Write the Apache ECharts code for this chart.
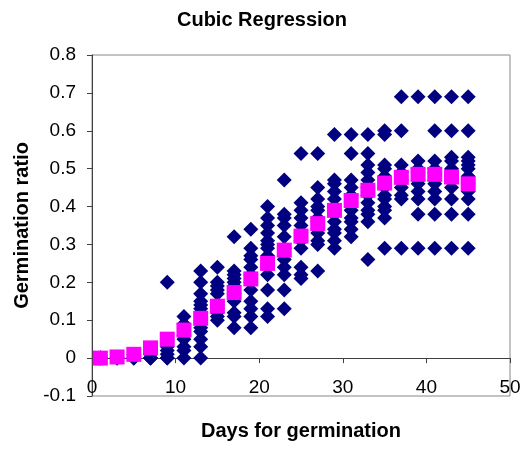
<!DOCTYPE html>
<html>
<head>
<meta charset="utf-8">
<script src="https://cdn.jsdelivr.net/npm/echarts@6/dist/echarts.min.js"></script>
<style>
  html, body { margin: 0; padding: 0; background: #fff; }
  #chart { width: 524px; height: 449px; }
</style>
</head>
<body>
<div id="chart"></div>
<script>
// days on the x axis (odd days only)
const days = [1, 3, 5, 7, 9, 11, 13, 15, 17, 19, 21, 23, 25, 27, 29, 31, 33, 35, 37, 39, 41, 43, 45]

// observed germination ratios, one list per day
const observed = [
  [0, 0, 0],
  [0, 0, 0],
  [0, 0, 0, 0.01],
  [0, 0, 0, 0.01, 0.02],
  [0, 0, 0.01, 0.02, 0.03, 0.2],
  [0, 0.02, 0.03, 0.05, 0.06, 0.09, 0.11],
  [0, 0.03, 0.05, 0.07, 0.08, 0.1, 0.13, 0.14, 0.15, 0.17, 0.2, 0.23],
  [0.1, 0.11, 0.12, 0.14, 0.17, 0.18, 0.19, 0.2, 0.24],
  [0.08, 0.11, 0.12, 0.15, 0.17, 0.19, 0.2, 0.21, 0.22, 0.23, 0.32],
  [0.08, 0.11, 0.13, 0.15, 0.18, 0.2, 0.22, 0.24, 0.26, 0.27, 0.29, 0.34],
  [0.11, 0.13, 0.18, 0.22, 0.25, 0.27, 0.29, 0.3, 0.31, 0.33, 0.35, 0.37, 0.4],
  [0.13, 0.18, 0.22, 0.24, 0.26, 0.29, 0.32, 0.35, 0.37, 0.38, 0.47],
  [0.21, 0.22, 0.24, 0.29, 0.31, 0.33, 0.35, 0.37, 0.39, 0.41, 0.54],
  [0.23, 0.3, 0.31, 0.33, 0.36, 0.37, 0.39, 0.4, 0.42, 0.45, 0.54],
  [0.29, 0.31, 0.33, 0.34, 0.36, 0.38, 0.39, 0.42, 0.44, 0.46, 0.47, 0.59],
  [0.32, 0.34, 0.36, 0.37, 0.39, 0.41, 0.43, 0.45, 0.47, 0.54, 0.59],
  [0.26, 0.36, 0.38, 0.39, 0.41, 0.43, 0.45, 0.47, 0.49, 0.51, 0.54, 0.59],
  [0.29, 0.37, 0.39, 0.4, 0.42, 0.43, 0.45, 0.48, 0.5, 0.51, 0.59, 0.6],
  [0.29, 0.42, 0.43, 0.45, 0.47, 0.49, 0.51, 0.6, 0.69],
  [0.29, 0.38, 0.42, 0.44, 0.46, 0.47, 0.49, 0.5, 0.52, 0.69],
  [0.29, 0.38, 0.42, 0.44, 0.46, 0.47, 0.49, 0.5, 0.52, 0.6, 0.69],
  [0.29, 0.38, 0.42, 0.45, 0.47, 0.48, 0.5, 0.52, 0.53, 0.6, 0.69],
  [0.29, 0.38, 0.42, 0.44, 0.46, 0.48, 0.5, 0.51, 0.52, 0.53, 0.6, 0.69],
]

// cubic regression fit, one value per day
const fitted = [0, 0.003, 0.01, 0.027, 0.05, 0.074, 0.105, 0.137, 0.173, 0.209, 0.25, 0.285,
  0.322, 0.355, 0.39, 0.416, 0.443, 0.462, 0.477, 0.485, 0.485, 0.478, 0.46]

const FONT = "'Liberation Sans', Arial, sans-serif"
const AXIS_COLOR = '#404040'

const Y_MIN = -0.1
const Y_MAX = 0.8
const GRID = { left: 92, right: 14, top: 55, bottom: 53 }
const plotH = 449 - GRID.top - GRID.bottom
// x axis crosses at y = 0, which sits above the bottom of the plot box
const zeroOffset = -((0 - Y_MIN) / (Y_MAX - Y_MIN)) * plotH

const scatterData = days.flatMap((d, i) => observed[i].map((v) => [d, v]))
const fitData = days.map((d, i) => [d, fitted[i]])

const chart = echarts.init(document.getElementById('chart'), null, { renderer: 'canvas' })

chart.setOption({
  animation: false,
  backgroundColor: '#fff',
  textStyle: { fontFamily: FONT },
  title: {
    text: 'Cubic Regression',
    left: 'center', top: 5,
    textStyle: { fontFamily: FONT, fontSize: 20, fontWeight: 'bold', color: '#000' },
  },
  grid: {
    ...GRID,
    outerBoundsMode: 'none', containLabel: false,
    show: true, borderColor: '#888', borderWidth: 1,
  },
  xAxis: {
    type: 'value', min: 0, max: 50, interval: 10,
    position: 'bottom', offset: zeroOffset,
    name: 'Days for germination', nameLocation: 'middle', nameGap: 63,
    nameTextStyle: { fontFamily: FONT, fontSize: 20, fontWeight: 'bold', color: '#000' },
    axisLine: { show: true, onZero: false, lineStyle: { color: AXIS_COLOR, width: 1 } },
    axisTick: { length: 5, lineStyle: { color: AXIS_COLOR } },
    axisLabel: { color: '#000', fontSize: 19, margin: 20, fontFamily: FONT },
    splitLine: { show: false },
  },
  yAxis: {
    type: 'value', min: Y_MIN, max: Y_MAX, interval: 0.1,
    name: 'Germination ratio', nameLocation: 'middle', nameGap: 59,
    nameTextStyle: { fontFamily: FONT, fontSize: 20, fontWeight: 'bold', color: '#000' },
    axisLine: { show: true, lineStyle: { color: AXIS_COLOR, width: 1 } },
    axisTick: { show: true, length: 5, lineStyle: { color: AXIS_COLOR } },
    axisLabel: {
      color: '#000', fontSize: 19, margin: 16, fontFamily: FONT,
      formatter: (v) => String(+v.toFixed(1)),
    },
    splitLine: { show: false },
  },
  series: [
    {
      name: 'Observed', type: 'scatter', data: scatterData,
      symbol: 'diamond', symbolSize: 15,
      itemStyle: { color: '#000080', opacity: 1 },
      z: 2,
    },
    {
      name: 'Cubic fit', type: 'scatter', data: fitData,
      symbol: 'rect', symbolSize: 15,
      itemStyle: { color: '#ff00ff', opacity: 1 },
      z: 3,
    },
  ],
})
</script>
</body>
</html>
